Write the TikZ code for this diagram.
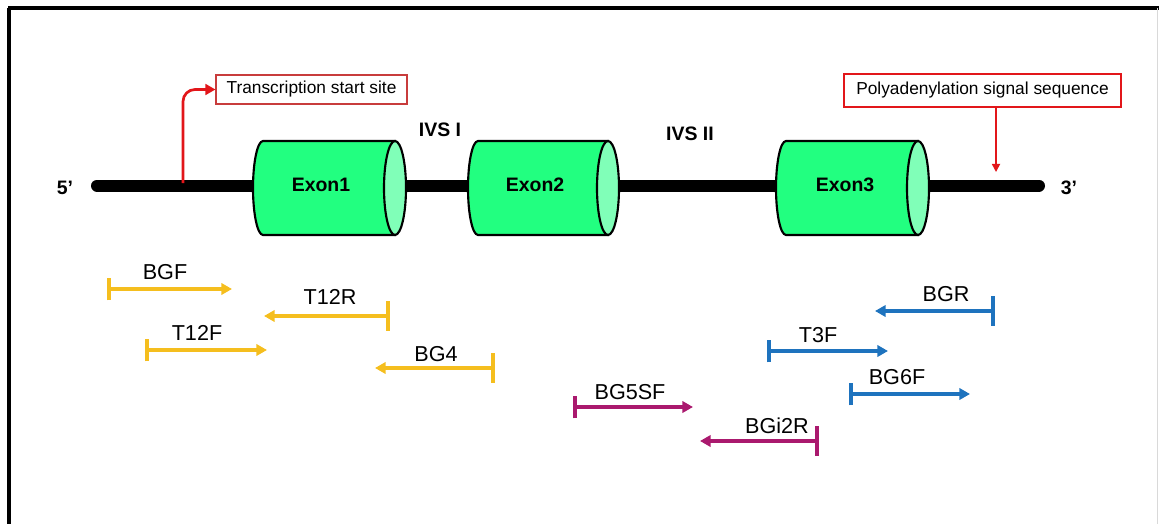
\documentclass[tikz,border=0pt]{standalone}
\usepackage{fontspec}
\setmainfont{Liberation Sans}
\usetikzlibrary{arrows.meta}
\definecolor{exgreen}{RGB}{34,255,128}
\definecolor{exend}{RGB}{128,255,184}
\definecolor{tsred}{RGB}{226,22,26}
\definecolor{boxred}{RGB}{200,60,60}
\definecolor{pyellow}{RGB}{245,190,30}
\definecolor{pblue}{RGB}{30,115,190}
\definecolor{ppurple}{RGB}{170,25,110}
\tikzset{
  boldlab/.style={font=\fontsize{14.6}{16}\selectfont\bfseries, inner sep=0pt},
  primlab/.style={font=\fontsize{16.2}{18}\selectfont, inner sep=0pt},
  fwd/.style={line width=3.2pt, {Bar[width=17pt]}-{Triangle[length=8pt,width=8.5pt]}},
  rev/.style={line width=3.2pt, {Triangle[length=8pt,width=8.5pt]}-{Bar[width=22pt]}},
  cylbody/.style={fill=exgreen, draw=black, line width=1.6pt},
  cylend/.style={fill=exend, draw=black, line width=1.6pt},
}
\newcommand{\exoncyl}[3]{% leftcenter, rightcenter, name
  \draw[cylbody] (#1,141) -- (#2,141) -- (#2,235) -- (#1,235)
     arc[start angle=90, end angle=270, x radius=10, y radius=47] -- cycle;
  \draw[cylend] (#2,188) ellipse[x radius=11, y radius=47];
}
\begin{document}
\begin{tikzpicture}[x=0.75pt,y=-0.75pt]
\useasboundingbox (0,0) rectangle (1159,524);
% frame
\draw[line width=2.4pt, black] (8,8) -- (1165,8);
\draw[line width=2.4pt, black] (9,8) -- (9,530);
\draw[line width=0.6pt, black!15] (1157,8) -- (1157,530);
% DNA line
\coordinate (L5) at (97,185.5);
\coordinate (L3) at (1039,185.5);
\draw[line width=9pt, line cap=round] (L5) -- (L3);
% exons
\exoncyl{263}{395}{e1}
\exoncyl{478}{608}{e2}
\exoncyl{786}{918}{e3}
\node[boldlab] (ex1) at (321,185) {Exon1};
\node[boldlab] (ex2) at (535,185) {Exon2};
\node[boldlab] (ex3) at (845,185) {Exon3};
\node[boldlab] (p5) at (65,188) {5’};
\node[boldlab] (p3) at (1069,188) {3’};
\node[boldlab] (ivs1) at (440,130) {IVS I};
\node[boldlab] (ivs2) at (690,134) {IVS II};
% transcription start site
\node[draw=boxred, line width=0.8pt, minimum width=143.25pt, minimum height=21.75pt, inner sep=0pt,
      font=\fontsize{13}{15}\selectfont] (tss) at (311.5,89.5) {Transcription start site};
\coordinate (tssbase) at (183,183);
\draw[tsred, line width=2pt, rounded corners=9pt, -{Triangle[length=7.5pt,width=8pt]}] (tssbase) |- (tss.west);
% polyadenylation
\node[draw=tsred, line width=1.9pt, minimum width=207.75pt, minimum height=24.75pt, inner sep=0pt,
      font=\fontsize{13}{15}\selectfont] (poly) at (982.5,90.5) {Polyadenylation signal sequence};
\coordinate (polytip) at (996,172);
\draw[tsred, line width=1.2pt, -{Triangle[length=6pt,width=6pt]}] (poly.south -| polytip) -- (polytip);
% primers yellow
\coordinate (bgfA) at (107,289); \coordinate (bgfB) at (232,289);
\draw[pyellow, fwd] (bgfA) -- (bgfB);
\node[primlab] (bgf) at (165,272) {BGF};
\coordinate (t12rA) at (390,316); \coordinate (t12rB) at (264,316);
\draw[pyellow, rev] (t12rB) -- (t12rA);
\node[primlab] (t12r) at (330,297) {T12R};
\coordinate (t12fA) at (145,350); \coordinate (t12fB) at (267,350);
\draw[pyellow, fwd] (t12fA) -- (t12fB);
\node[primlab] (t12f) at (197,333) {T12F};
\coordinate (bg4A) at (495,368); \coordinate (bg4B) at (375,368);
\draw[pyellow, rev] (bg4B) -- (bg4A);
\node[primlab] (bg4) at (436,354) {BG4};
% primers purple
\coordinate (bg5A) at (573,407); \coordinate (bg5B) at (693,407);
\draw[ppurple, fwd] (bg5A) -- (bg5B);
\node[primlab] (bg5sf) at (630,392) {BG5SF};
\coordinate (bgi2A) at (819,441); \coordinate (bgi2B) at (700,441);
\draw[ppurple, rev] (bgi2B) -- (bgi2A);
\node[primlab] (bgi2r) at (777,426) {BGi2R};
% primers blue
\coordinate (bgrA) at (995,311); \coordinate (bgrB) at (875,311);
\draw[pblue, rev] (bgrB) -- (bgrA);
\node[primlab] (bgr) at (946,294) {BGR};
\coordinate (t3fA) at (767,351); \coordinate (t3fB) at (888,351);
\draw[pblue, fwd] (t3fA) -- (t3fB);
\node[primlab] (t3f) at (818,335) {T3F};
\coordinate (bg6A) at (849,394); \coordinate (bg6B) at (970,394);
\draw[pblue, fwd] (bg6A) -- (bg6B);
\node[primlab] (bg6f) at (897,377) {BG6F};
\end{tikzpicture}
\end{document}
